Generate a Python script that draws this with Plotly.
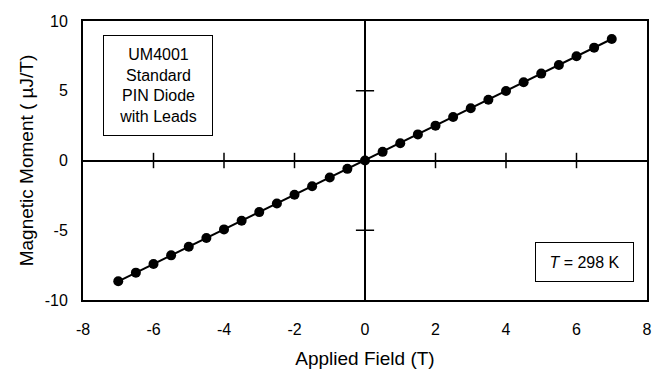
import plotly.graph_objects as go

field = [-7, -6.5, -6, -5.5, -5, -4.5, -4, -3.5, -3, -2.5, -2, -1.5, -1, -0.5,
         0, 0.5, 1, 1.5, 2, 2.5, 3, 3.5, 4, 4.5, 5, 5.5, 6, 6.5, 7]
moment = [-8.66, -8.04, -7.42, -6.80, -6.18, -5.56, -4.94, -4.32, -3.70, -3.08,
          -2.46, -1.84, -1.22, -0.60, 0.0, 0.62, 1.24, 1.87, 2.50, 3.12, 3.74,
          4.36, 4.98, 5.61, 6.23, 6.85, 7.47, 8.09, 8.71]
x_ticks = [-8, -6, -4, -2, 0, 2, 4, 6, 8]
y_ticks = [-10, -5, 0, 5, 10]
x_tick_labels = ["-8", "-6", "-4", "-2", "0", "2", "4", "6", "8"]
y_tick_labels = ["-10", "-5", "0", "5", "10"]

FONT = "Liberation Sans, Arial, Helvetica, sans-serif"

fig = go.Figure()

# crossing tick marks on the zero lines
inner_x = [t for t in x_ticks if t not in (0, x_ticks[0], x_ticks[-1])]
inner_y = [t for t in y_ticks if t not in (0, y_ticks[0], y_ticks[-1])]
fig.add_trace(go.Scatter(x=inner_x, y=[0] * len(inner_x), mode="markers",
                         marker=dict(symbol="line-ns", size=11,
                                     line=dict(color="black", width=1.5)),
                         hoverinfo="skip", showlegend=False))
fig.add_trace(go.Scatter(x=[0] * len(inner_y), y=inner_y, mode="markers",
                         marker=dict(symbol="line-ew", size=13,
                                     line=dict(color="black", width=1.5)),
                         hoverinfo="skip", showlegend=False))

fig.add_trace(go.Scatter(x=field, y=moment, mode="lines+markers",
                         line=dict(color="black", width=2),
                         marker=dict(color="black", size=10),
                         showlegend=False))

axis_common = dict(showgrid=False, zeroline=True, zerolinecolor="black",
                   zerolinewidth=2, showline=True, linecolor="black",
                   linewidth=2, mirror=True, ticks="outside",
                   tickcolor="rgba(0,0,0,0)",
                   tickfont=dict(family=FONT, size=16, color="black"))

fig.update_xaxes(range=[-8, 8], tickvals=x_ticks, ticktext=x_tick_labels,
                 ticklen=14,
                 title=dict(text="Applied Field (T)", standoff=14,
                            font=dict(family=FONT, size=19, color="black")),
                 **axis_common)
fig.update_yaxes(range=[-10, 10], tickvals=y_ticks, ticktext=y_tick_labels,
                 ticklen=10,
                 title=dict(text="Magnetic Moment ( µJ/T)", standoff=6,
                            font=dict(family=FONT, size=19, color="black")),
                 **axis_common)

fig.add_annotation(xref="paper", yref="paper", x=0.1336, y=0.7688,
                   xanchor="center", yanchor="middle", showarrow=False,
                   text="UM4001<br>Standard<br>PIN Diode<br>with Leads",
                   align="center", width=100, height=91, borderpad=4,
                   bordercolor="black", borderwidth=1, bgcolor="white",
                   font=dict(family=FONT, size=16, color="black"))
fig.add_annotation(xref="paper", yref="paper", x=0.8884, y=0.1362,
                   xanchor="center", yanchor="middle", showarrow=False,
                   text="<i>T</i> = 298 K",
                   align="center", width=89, height=30, borderpad=4,
                   bordercolor="black", borderwidth=1, bgcolor="white",
                   font=dict(family=FONT, size=16, color="black"))

fig.update_layout(width=655, height=369,
                  margin=dict(l=83, r=3, t=21, b=69),
                  plot_bgcolor="white", paper_bgcolor="white",
                  font=dict(family=FONT, size=16, color="black"))

fig.write_html("out.html")
